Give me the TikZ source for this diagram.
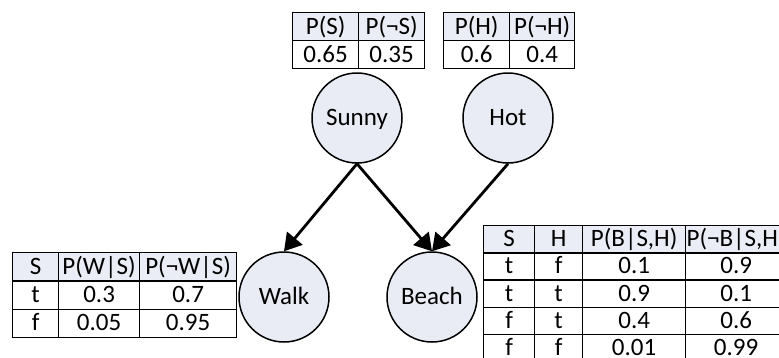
\documentclass[tikz,border=0pt]{standalone}
\usepackage{fontspec}
\setmainfont{Carlito}
\usetikzlibrary{matrix,arrows.meta}
\definecolor{cellfill}{RGB}{234,237,245}
\definecolor{varfill}{RGB}{233,236,244}
\tikzset{
    var/.style={circle, draw, line width=1.5pt, fill=varfill, minimum size=90pt, inner sep=0pt, text height=20pt, text depth=5pt},
    link/.style={line width=2.8pt, -{Triangle[length=17pt,width=20pt]}},
    cpt/.style={matrix of nodes, anchor=north west, inner sep=0pt, outer sep=0pt,
        column sep=-1.3pt, row sep=-1.3pt,
        nodes={draw, line width=1.3pt, minimum height=28pt, inner sep=0pt, text height=20pt, text depth=5pt},
        row 1/.style={nodes={fill=cellfill}}},
    col/.style 2 args={column #1/.style={nodes={minimum width=#2}}}
}
\begin{document}
\begin{tikzpicture}[x=1pt, y=-1pt, font=\fontsize{25}{29}\selectfont]
    \useasboundingbox (0,0) rectangle (779,357);
    \clip (0,0) rectangle (779,357);

    \node[var] (sunny) at (357,118) {Sunny};
    \node[var] (hot) at (508,118) {Hot};
    \node[var] (walk) at (284,297) {Walk};
    \node[var] (beach) at (432,297) {Beach};

    \draw[link] (sunny.south) -- (walk.north);
    \draw[link] (sunny.south) -- (beach.north);
    \draw[link] (hot.south) -- (beach.north);

    \matrix[cpt, col={1}{66pt}, col={2}{66pt}] (cptsunny) at (292,12) {
        P(S) & P(¬S) \\
        0.65 & 0.35 \\
    };
    \matrix[cpt, col={1}{66pt}, col={2}{65pt}] (cpthot) at (443,12) {
        P(H) & P(¬H) \\
        0.6 & 0.4 \\
    };
    \matrix[cpt, nodes={minimum height=28.3pt}, col={1}{46pt}, col={2}{81pt}, col={3}{97pt}] (cptwalk) at (12,252) {
        S & P(W|S) & P(¬W|S) \\
        t & 0.3 & 0.7 \\
        f & 0.05 & 0.95 \\
    };
    \matrix[cpt, nodes={minimum height=27.2pt}, col={1}{51pt}, col={2}{48pt}, col={3}{103pt}, col={4}{101pt}] (cptbeach) at (483,225) {
        S & H & P(B|S,H) & P(¬B|S,H) \\
        t & f & 0.1 & 0.9 \\
        t & t & 0.9 & 0.1 \\
        f & t & 0.4 & 0.6 \\
        f & f & 0.01 & 0.99 \\
    };
\end{tikzpicture}
\end{document}
